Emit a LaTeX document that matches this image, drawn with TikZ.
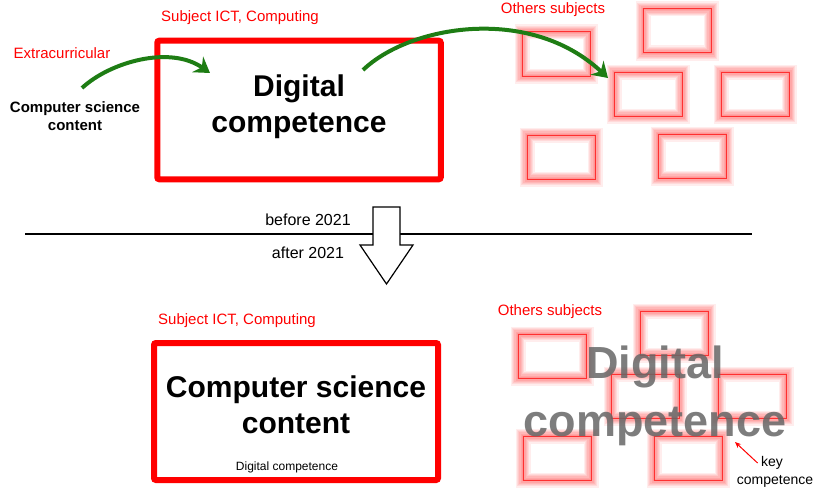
\documentclass[tikz,border=0pt]{standalone}
\usepackage{fontspec}
\setmainfont{Liberation Sans}
\usetikzlibrary{arrows.meta}

\definecolor{arrowgreen}{HTML}{1E7D14}
\definecolor{boxred}{HTML}{FF0000}
\definecolor{subjred}{HTML}{FF3030}

\tikzset{
  redlabel/.style={text=boxred, font=\fontsize{15}{18}\selectfont},
  timelabel/.style={font=\fontsize{16}{19}\selectfont},
  bigbox/.style={draw=boxred, line width=6pt, rounded corners=2pt,
    align=center, font=\bfseries\fontsize{30}{36}\selectfont},
  % thin red frame with a soft red halo round it
  subj/.style={draw=subjred, line width=1pt, minimum width=68, minimum height=44,
    preaction={draw=red, opacity=.07, line width=15pt},
    preaction={draw=red, opacity=.08, line width=12.5pt},
    preaction={draw=red, opacity=.08, line width=10pt},
    preaction={draw=red, opacity=.09, line width=7.5pt},
    preaction={draw=red, opacity=.09, line width=5pt},
    preaction={draw=red, opacity=.1, line width=2.5pt}},
  green arrow/.style={draw=arrowgreen, line width=4pt,
    -{Stealth[length=15pt, width=19pt, inset=5pt]}},
}

\begin{document}
\begin{tikzpicture}[x=1pt, y=-1pt]
  \useasboundingbox (0,0) rectangle (818,487);

  % ---- before 2021 ----
  \node[redlabel] (ict1) at (240,18) {Subject ICT, Computing};
  \node[redlabel] (extra) at (62,53) {Extracurricular};
  \node[align=center, font=\bfseries\fontsize{15}{18}\selectfont] (cs) at (75,116) {Computer science\\content};
  \node[bigbox, minimum width=283.5, minimum height=138.5, text depth=12pt] (dc) at (299,110) {Digital\\competence};
  \node[redlabel] (other1) at (553,10) {Others subjects};

  \node[subj] (t1) at (556,54)  {};
  \node[subj] (t2) at (677,31)  {};
  \node[subj] (t3) at (648,94)  {};
  \node[subj] (t4) at (755,94)  {};
  \node[subj] (t5) at (561,157) {};
  \node[subj] (t6) at (692,156) {};

  \coordinate (a1) at (82,88);
  \coordinate (e1) at (210,73);
  \coordinate (a2) at (363,70);
  \coordinate (e2) at (608,78);
  \draw[green arrow] (a1) .. controls (110,62) and (170,45) .. (e1);
  \draw[green arrow] (a2) .. controls (410,25) and (530,5) .. (e2);

  % ---- time line ----
  \coordinate (l0) at (25,234);
  \coordinate (l1) at (752,234);
  \draw[line width=1.3pt] (l0) -- (l1);
  \draw[line width=1.2pt, fill=white] (373,207) -- (400,207) -- (400,245) -- (413,245)
    -- (386.5,284) -- (360,245) -- (373,245) -- cycle;
  \node[timelabel] (before) at (308,220) {before 2021};
  \node[timelabel] (after) at (308,253) {after 2021};

  % ---- after 2021 ----
  \node[redlabel] (ict2) at (237,321) {Subject ICT, Computing};
  \node[bigbox, minimum width=284, minimum height=137, text depth=14pt] (csc) at (296,411.5) {Computer science\\content};
  \node[font=\fontsize{12}{14}\selectfont] (dcsmall) at (287,467) {Digital competence};
  \node[redlabel] (other2) at (550,312) {Others subjects};

  \node[subj] (b1) at (552,356) {};
  \node[subj] (b2) at (674,333) {};
  \node[subj] (b3) at (645,396) {};
  \node[subj] (b4) at (752,396) {};
  \node[subj] (b5) at (557,458) {};
  \node[subj] (b6) at (688,458) {};

  \node[align=center, text=black!60, opacity=.85,
    font=\bfseries\fontsize{45}{58}\selectfont] (gdc) at (655,396) {Digital\\competence};

  \node[font=\fontsize{14}{17}\selectfont] (key) at (772,463) {key};
  \node[font=\fontsize{14}{17}\selectfont] (keycomp) at (775,481) {competence};
  \coordinate (kt) at (735,442);
  \draw[boxred, line width=1pt, -{Stealth[length=6pt, width=5pt]}] (key.west) -- (kt);
\end{tikzpicture}
\end{document}
